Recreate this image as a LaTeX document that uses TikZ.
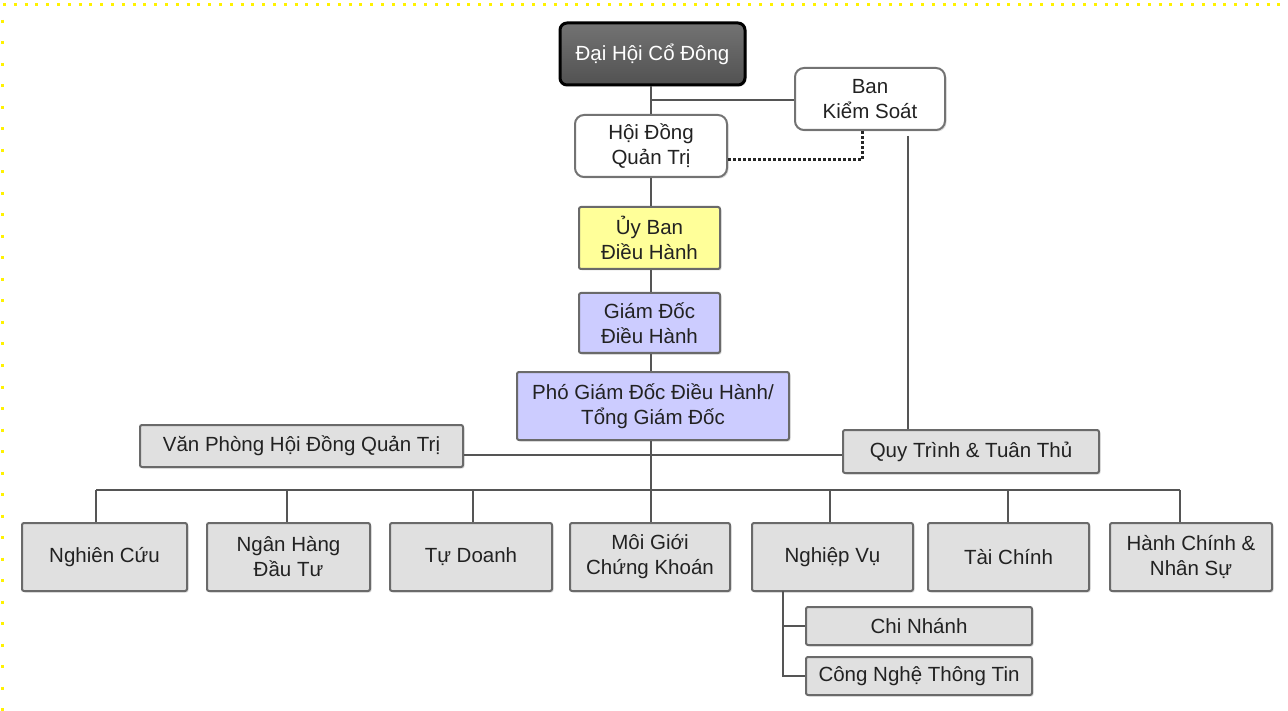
\documentclass[tikz,border=0pt]{standalone}
\usepackage{fontspec}
\setmainfont{Liberation Sans}
\usetikzlibrary{calc,shadows}
\definecolor{lnc}{HTML}{555555}
\definecolor{bdc}{HTML}{6A6A6A}
\definecolor{gfill}{HTML}{E0E0E0}
\definecolor{yfill}{HTML}{FFFF99}
\definecolor{lfill}{HTML}{CCCCFF}
\definecolor{txt}{HTML}{222222}
\tikzset{
  base/.style={draw=bdc, line width=2pt, align=center, inner sep=0pt, text=txt,
    font=\fontsize{20.5}{25}\selectfont,
    drop shadow={opacity=0.25, shadow xshift=1.5pt, shadow yshift=-1.5pt}},
  graybox/.style={base, fill=gfill, rounded corners=2pt},
  whitebox/.style={base, fill=white, rounded corners=9pt, draw=black!55},
  yelbox/.style={base, fill=yfill, rounded corners=2pt},
  lavbox/.style={base, fill=lfill, rounded corners=2pt},
  conn/.style={draw=lnc, line width=2pt},
}
\begin{document}
\begin{tikzpicture}[x=1pt,y=-1pt]
\useasboundingbox (0,0) rectangle (1288,711);
\fill[white] (0,0) rectangle (1288,711);
% yellow dotted frame
\draw[yellow, line width=3pt, dash pattern=on 3pt off 7.8pt] (3,4.5) -- (1288,4.5);
\draw[yellow, line width=3pt, dash pattern=on 3pt off 18.5pt] (2.5,20) -- (2.5,711);

% nodes
\node[base, rounded corners=7pt, draw=black, line width=3pt, top color=black!55, bottom color=black!68,
  text=white, minimum width=185pt, minimum height=62pt] (dhcd) at (652.5,54) {Đại Hội Cổ Đông};
\node[whitebox, minimum width=150pt, minimum height=62pt] (bks) at (870,99) {Ban\\Kiểm Soát};
\node[whitebox, minimum width=152pt, minimum height=62pt] (hdqt) at (651,146) {Hội Đồng\\Quản Trị};
\node[yelbox, minimum width=141pt, minimum height=62pt] (uybh) at (649.5,238) {Ủy Ban\\Điều Hành};
\node[lavbox, minimum width=141pt, minimum height=60pt] (gddh) at (649.5,323) {Giám Đốc\\Điều Hành};
\node[lavbox, minimum width=272pt, minimum height=68pt] (pgd) at (653,406) {Phó Giám Đốc Điều Hành/\\Tổng Giám Đốc};
\node[graybox, minimum width=323pt, minimum height=42pt] (vp) at (301.5,446) {Văn Phòng Hội Đồng Quản Trị};
\node[graybox, minimum width=256pt, minimum height=43pt] (qt) at (971,451.5) {Quy Trình \& Tuân Thủ};

\node[graybox, minimum width=165pt, minimum height=68pt] (nc) at (104.5,557) {Nghiên Cứu};
\node[graybox, minimum width=163pt, minimum height=68pt] (nh) at (288.5,557) {Ngân Hàng\\Đầu Tư};
\node[graybox, minimum width=162pt, minimum height=68pt] (td) at (471,557) {Tự Doanh};
\node[graybox, minimum width=160pt, minimum height=68pt] (mg) at (650,557) {Môi Giới\\Chứng Khoán};
\node[graybox, minimum width=161pt, minimum height=68pt] (nv) at (832.5,557) {Nghiệp Vụ};
\node[graybox, minimum width=161pt, minimum height=68pt] (tc) at (1008.5,557) {Tài Chính};
\node[graybox, minimum width=162pt, minimum height=68pt] (hc) at (1191,557) {Hành Chính \&\\Nhân Sự};
\node[graybox, minimum width=226pt, minimum height=38pt] (cn) at (919,626) {Chi Nhánh};
\node[graybox, minimum width=226pt, minimum height=38pt] (cntt) at (919,676) {Công Nghệ Thông Tin};

% coordinates
\coordinate (bus) at (651,490);
\coordinate (bkjoin) at (651,100);
\coordinate (bksdown) at (908,136);
\coordinate (dotcorner) at (862,160);
\coordinate (nvdown) at (783,591);

% connectors
\draw[conn] (dhcd.south -| bus) -- (hdqt.north -| bus);
\draw[conn] (bkjoin) -- (bks.west |- bkjoin);
\draw[conn] (hdqt.south -| bus) -- (uybh.north -| bus);
\draw[conn] (uybh.south -| bus) -- (gddh.north -| bus);
\draw[conn] (gddh.south -| bus) -- (pgd.north -| bus);
\draw[conn] (pgd.south -| bus) -- (bus);
\draw[black!85, line width=3pt, dash pattern=on 3pt off 2pt] (hdqt.east |- dotcorner) -- (dotcorner) -- (dotcorner |- bks.south);
\draw[conn] (bksdown) -- (bksdown |- qt.north);
\draw[conn] (vp.east |- 0,455) -- (qt.west |- 0,455);
\draw[conn] (96,490) -- (1180,490);
\foreach \n/\x in {nc/96, nh/287, td/473, mg/651, nv/830, tc/1008, hc/1180}
  \draw[conn] (\x,490) -- (\x,0 |- \n.north);
\draw[conn] (nvdown) |- (cn.west);
\draw[conn] (nvdown) |- (cntt.west);
\end{tikzpicture}
\end{document}
